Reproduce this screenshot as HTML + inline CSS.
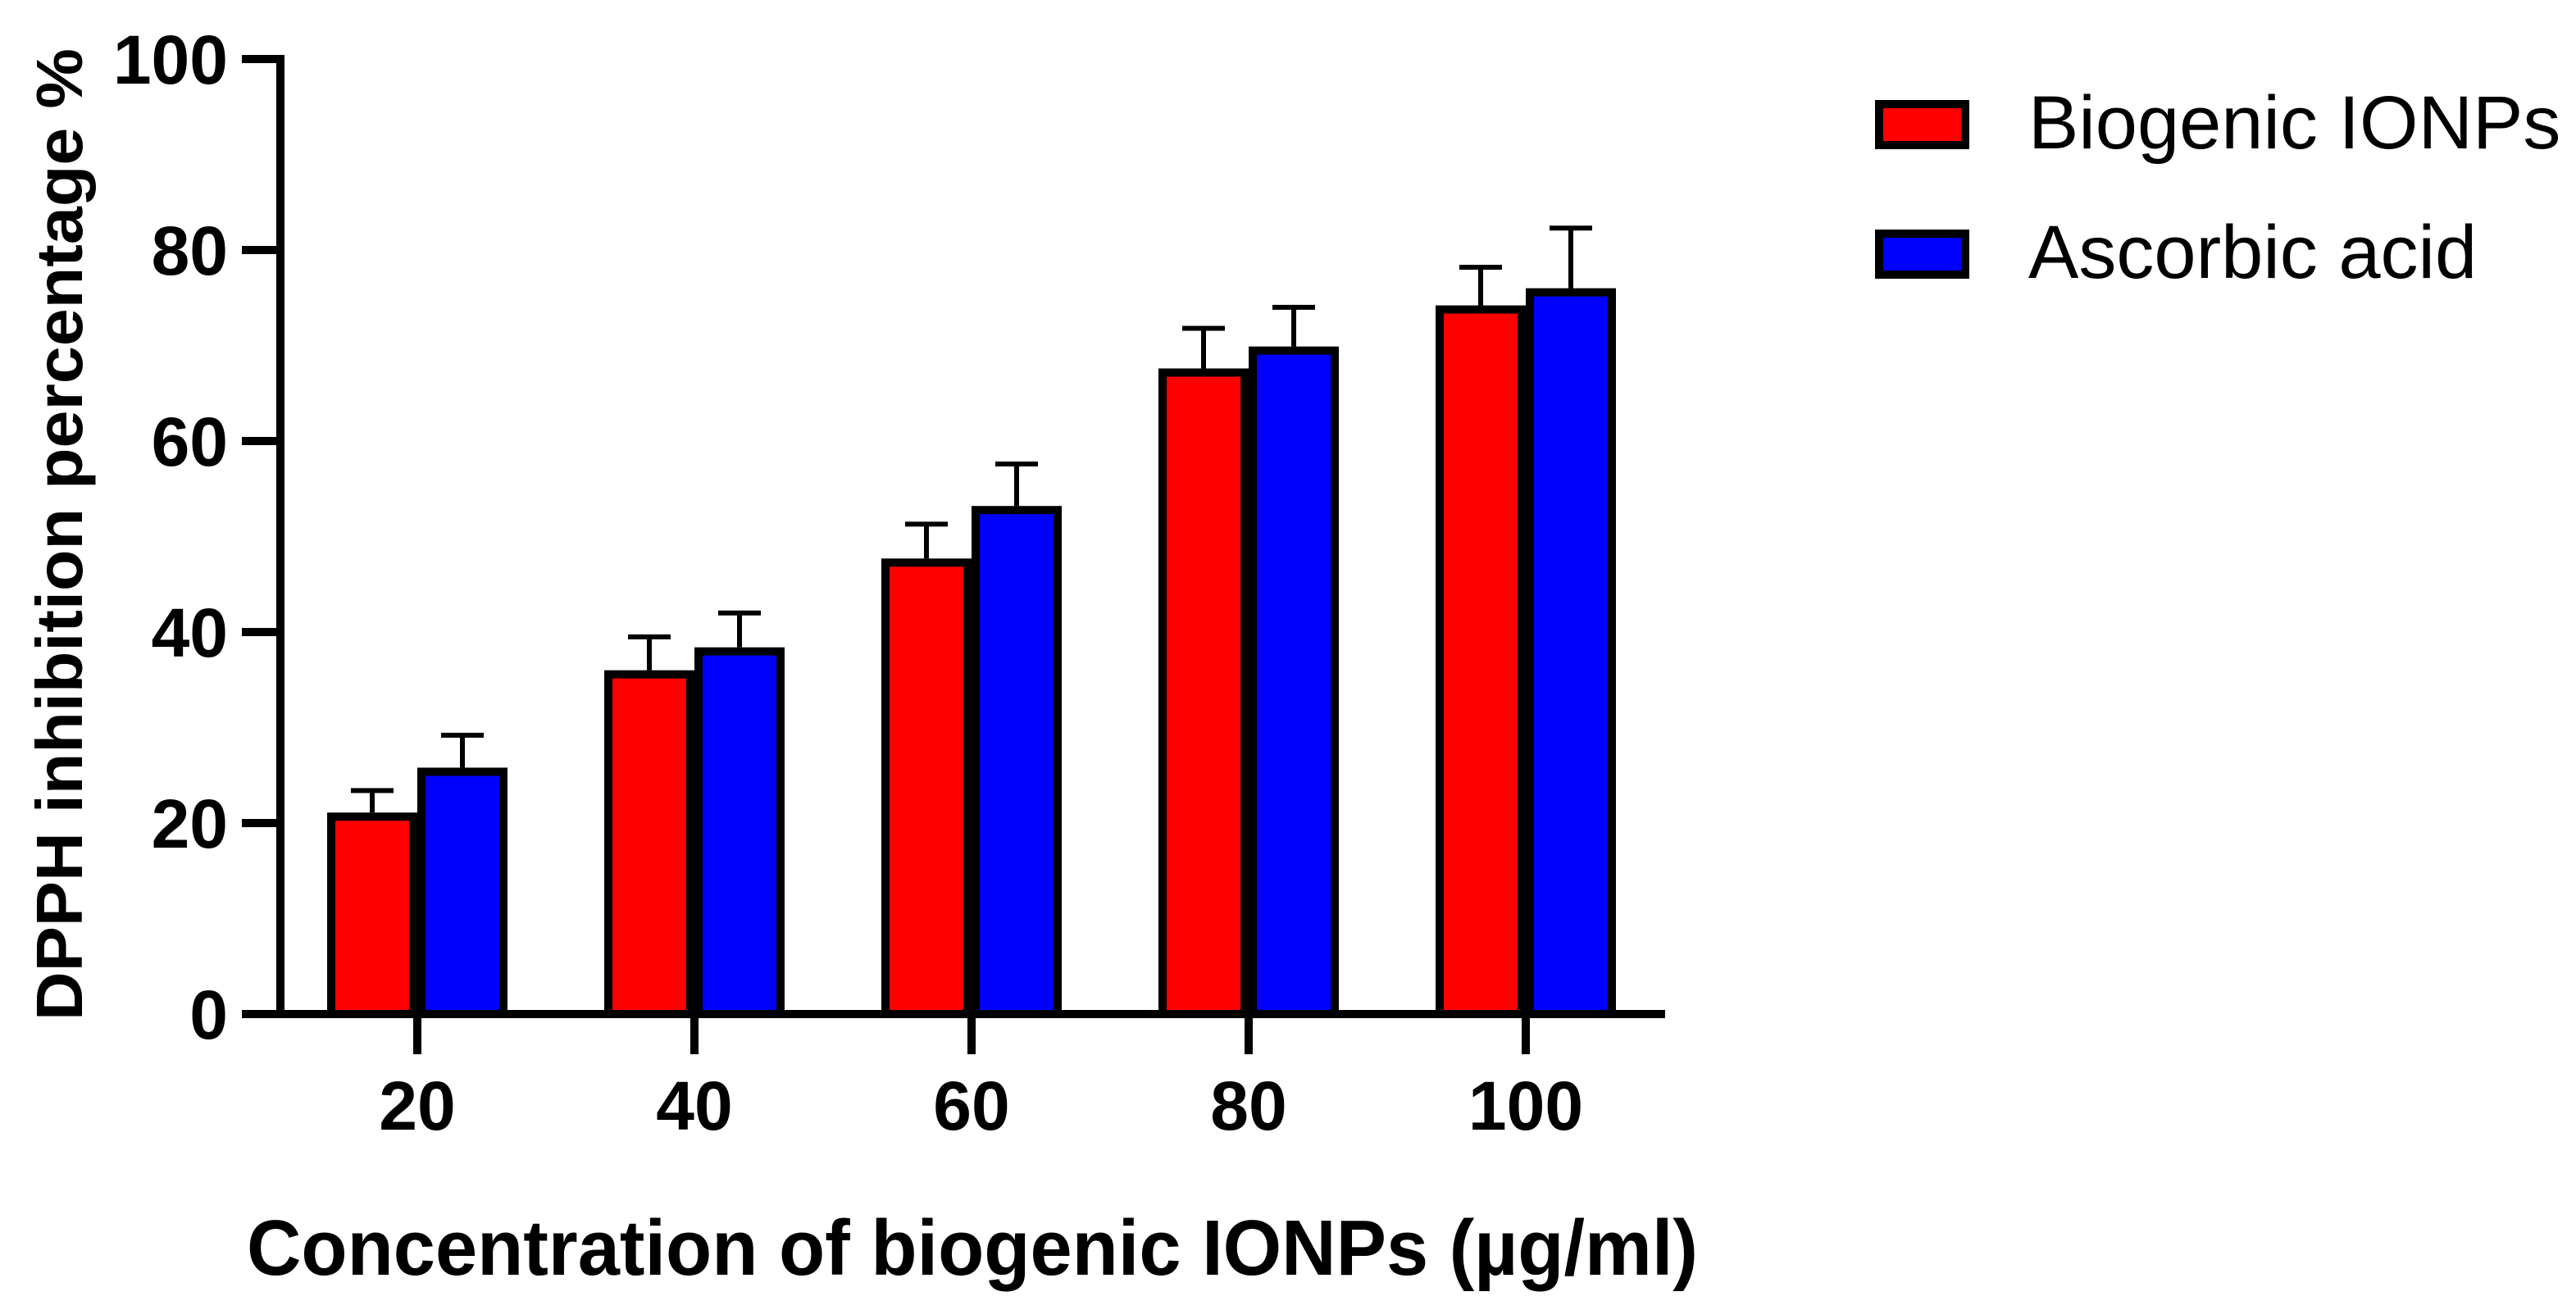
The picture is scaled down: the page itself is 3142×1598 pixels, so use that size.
<!DOCTYPE html>
<html><head><meta charset="utf-8"><style>html,body{margin:0;padding:0;background:#fff;}svg{display:block;}</style></head>
<body>
<svg id="chart" width="3142" height="1598" viewBox="0 0 3142 1598" xmlns="http://www.w3.org/2000/svg" font-family="'Liberation Sans', Arial, sans-serif">
<rect width="3142" height="1598" fill="#fff"/>
<g id="marks"></g>
<g id="axes"></g>
<text transform="translate(100,652) rotate(-90)" text-anchor="middle" font-size="80" font-weight="bold" textLength="1186" lengthAdjust="spacingAndGlyphs">DPPH inhibition percentage %</text>
<text x="301" y="1555" font-size="96" font-weight="bold" textLength="1770" lengthAdjust="spacingAndGlyphs">Concentration of biogenic IONPs (µg/ml)</text>
<g>
<rect x="2292" y="127" width="105" height="50" fill="#ff0000" stroke="#000" stroke-width="10"/>
<text x="2474" y="181" font-size="92">Biogenic IONPs</text>
<rect x="2292" y="285" width="105" height="50" fill="#0000ff" stroke="#000" stroke-width="10"/>
<text x="2474" y="339" font-size="92">Ascorbic acid</text>
</g>
<script>
const categories = ["20","40","60","80","100"];
const biogenic = [21.1, 36.0, 47.7, 67.6, 74.2];
const biogenicErr = [2.3, 3.5, 3.6, 4.2, 4.0];
const ascorbic = [25.8, 38.4, 53.2, 69.9, 76.0];
const ascorbicErr = [3.4, 3.6, 4.4, 4.1, 6.3];
const yTicks = [0, 20, 40, 60, 80, 100];

const NS = "http://www.w3.org/2000/svg";
const x0 = 342, xEnd = 2031, y0 = 1237, y100 = 72;
const firstCenter = 509, step = 338, barW = 110;
function yScale(v){ return y0 - (v/100)*(y0 - y100); }
function xCenter(i){ return firstCenter + i*step; }
function mk(tag, attrs, parent){ const e = document.createElementNS(NS, tag); for (const k in attrs) e.setAttribute(k, attrs[k]); parent.appendChild(e); return e; }
const marks = document.getElementById('marks');
const axes = document.getElementById('axes');

function drawBar(i, v, err, color, offset, name){
  const c = xCenter(i);
  const left = c + offset;
  const cx = left + barW/2;
  const ln = mk('line', {x1: cx, x2: cx, y1: yScale(v), y2: yScale(v+err), stroke: '#000', 'stroke-width': 6}, marks);
  
  
  const cap = mk('line', {x1: cx-26, x2: cx+26, y1: yScale(v+err), y2: yScale(v+err), stroke: '#000', 'stroke-width': 6}, marks);
  
  
  const r = mk('rect', {x: left+5, y: yScale(v)+5, width: barW-10, height: Math.max(0, y0 - yScale(v) - 5), fill: color, stroke: '#000', 'stroke-width': 10}, marks);
  
  
}
categories.forEach((c, i) => {
  drawBar(i, biogenic[i], biogenicErr[i], '#ff0000', -barW, 'biogenic');
  drawBar(i, ascorbic[i], ascorbicErr[i], '#0000ff', 0, 'ascorbic');
});

const yAxis = mk('line', {x1: x0, x2: x0, y1: y100-5, y2: y0+5, stroke: '#000', 'stroke-width': 10}, axes);


const xAxis = mk('line', {x1: x0-5, x2: xEnd, y1: y0, y2: y0, stroke: '#000', 'stroke-width': 10}, axes);


yTicks.forEach(t => {
  const y = yScale(t);
  const tk = mk('line', {x1: 295, x2: x0, y1: y, y2: y, stroke: '#000', 'stroke-width': 10}, axes);
  
  
  const lb = mk('text', {x: 278, y: y + 30, 'text-anchor': 'end', 'font-size': 84, 'font-weight': 'bold'}, axes);
  lb.textContent = t;
  
  
});
categories.forEach((c, i) => {
  const x = xCenter(i);
  const tk = mk('line', {x1: x, x2: x, y1: y0, y2: 1286, stroke: '#000', 'stroke-width': 10}, axes);
  
  
  const lb = mk('text', {x: x, y: 1378, 'text-anchor': 'middle', 'font-size': 84, 'font-weight': 'bold'}, axes);
  lb.textContent = c;
  
  
});
</script>
</svg>
</body></html>
